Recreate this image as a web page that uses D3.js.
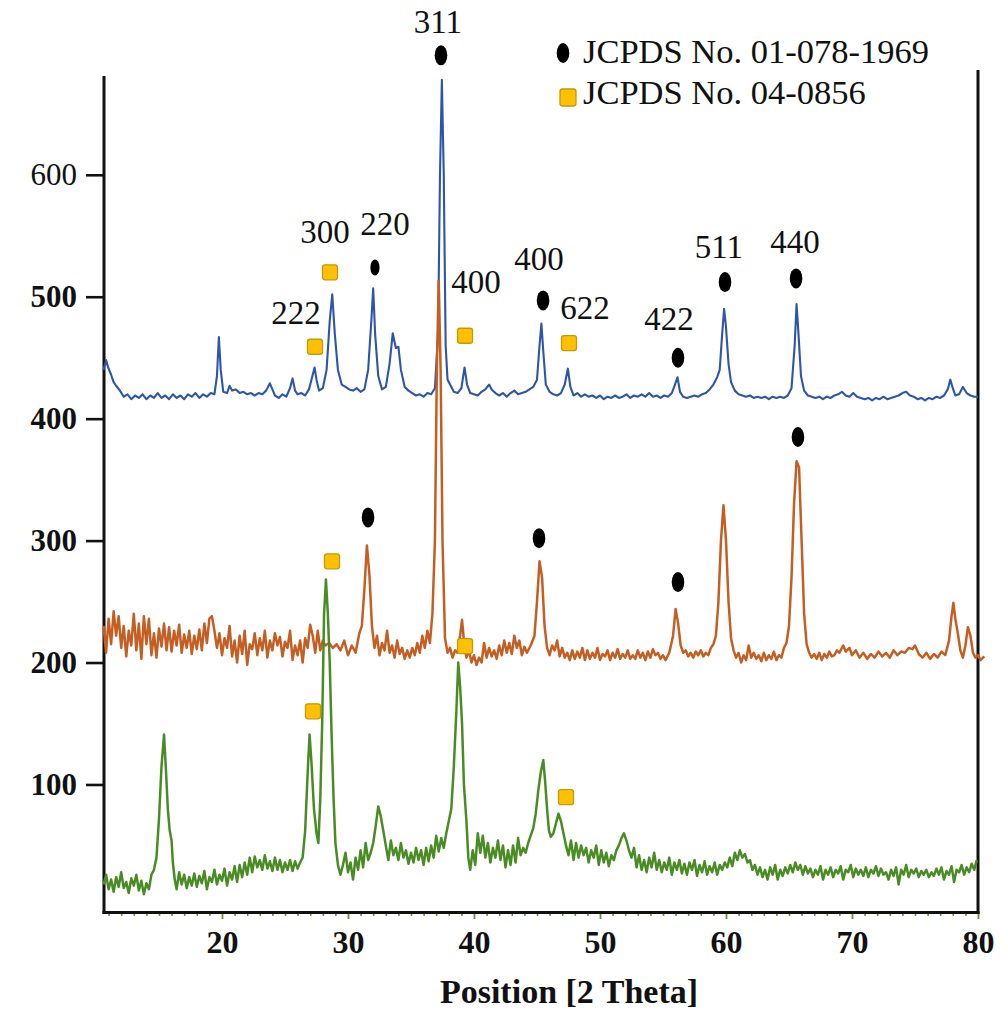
<!DOCTYPE html>
<html>
<head>
<meta charset="utf-8">
<script src="https://cdn.jsdelivr.net/npm/d3@7"></script>
<style>
  html, body { margin: 0; padding: 0; background: #fff; }
  svg { display: block; }
  text { font-family: "Liberation Serif", "Times New Roman", serif; fill: #111; }
</style>
</head>
<body>
<svg id="chart" width="1000" height="1030"></svg>
<script>
// ---------------- DATA (2θ, intensity) ----------------
const blueSeries = [
[10.6,440],[10.8,448],[11.0,441],[11.2,436],[11.4,430],[11.6,427],[11.9,423],[12.2,418],[12.5,420],[12.8,416],
[13.1,419],[13.4,417],[13.7,420],[14.0,416],[14.3,419],[14.6,417],[14.9,421],[15.2,417],[15.5,419],[15.8,416],
[16.1,420],[16.4,417],[16.7,419],[17.0,416],[17.3,420],[17.6,418],[17.9,421],[18.2,417],[18.5,420],[18.8,418],
[19.1,421],[19.4,420],[19.6,435],[19.75,467],[19.9,440],[20.1,422],[20.4,421],[20.6,427],[20.8,423],[21.1,424],
[21.4,421],[21.7,422],[22.0,420],[22.3,421],[22.6,419],[22.9,421],[23.2,420],[23.5,423],[23.8,429],[24.0,424],
[24.2,419],[24.5,417],[24.8,420],[25.1,418],[25.4,425],[25.6,433],[25.8,423],[26.0,420],[26.3,421],[26.6,419],
[26.9,424],[27.2,436],[27.35,442],[27.5,432],[27.7,423],[28.0,425],[28.3,440],[28.55,480],[28.75,502],[28.95,470],
[29.2,440],[29.5,428],[29.8,426],[30.1,424],[30.4,423],[30.7,425],[31.0,422],[31.3,424],[31.6,440],[31.85,480],
[32.0,507],[32.15,470],[32.4,435],[32.7,424],[33.0,426],[33.3,445],[33.55,470],[33.8,458],[34.0,459],[34.2,440],
[34.5,426],[34.8,423],[35.1,421],[35.4,419],[35.7,420],[36.0,418],[36.3,421],[36.6,420],[36.9,425],[37.15,470],
[37.3,600],[37.45,678],[37.6,600],[37.75,460],[37.9,432],[38.1,428],[38.4,422],[38.7,421],[39.0,425],[39.25,442],
[39.45,428],[39.7,421],[40.0,420],[40.3,419],[40.6,422],[40.9,424],[41.2,428],[41.4,424],[41.7,421],[42.0,419],
[42.3,421],[42.6,418],[42.9,421],[43.2,423],[43.5,420],[43.8,421],[44.1,422],[44.4,424],[44.7,426],[45.0,432],
[45.2,460],[45.35,478],[45.5,455],[45.7,428],[46.0,422],[46.3,420],[46.6,419],[46.9,421],[47.2,428],[47.45,441],
[47.65,426],[47.9,419],[48.2,421],[48.5,418],[48.8,420],[49.1,418],[49.4,419],[49.7,417],[50.0,419],[50.3,416],
[50.6,418],[50.9,417],[51.2,419],[51.5,417],[51.8,418],[52.1,420],[52.4,417],[52.7,419],[53.0,418],[53.3,420],
[53.6,418],[53.9,421],[54.2,418],[54.5,419],[54.8,417],[55.1,419],[55.4,418],[55.7,421],[55.95,428],[56.15,434],
[56.35,422],[56.6,418],[56.9,417],[57.2,418],[57.5,419],[57.8,418],[58.1,420],[58.4,421],[58.7,424],[59.0,428],
[59.3,434],[59.5,440],[59.7,470],[59.85,490],[60.0,475],[60.2,445],[60.4,430],[60.7,423],[61.0,420],[61.3,419],
[61.6,418],[61.9,419],[62.2,417],[62.5,418],[62.8,417],[63.1,418],[63.4,416],[63.7,418],[64.0,417],[64.3,418],
[64.6,417],[64.9,419],[65.2,425],[65.45,460],[65.6,494],[65.75,470],[65.95,435],[66.2,423],[66.5,419],[66.8,418],
[67.1,417],[67.4,418],[67.7,416],[68.0,418],[68.3,417],[68.6,419],[68.9,420],[69.2,422],[69.5,419],[69.8,418],
[70.1,421],[70.4,418],[70.7,417],[71.0,416],[71.3,417],[71.6,415],[71.9,417],[72.2,416],[72.5,418],[72.8,416],
[73.1,417],[73.4,418],[73.7,419],[74.0,421],[74.3,422],[74.6,419],[74.9,418],[75.2,416],[75.5,417],[75.8,415],
[76.1,417],[76.4,416],[76.7,418],[77.0,417],[77.3,419],[77.6,424],[77.8,432],[78.0,425],[78.2,419],[78.5,420],
[78.8,426],[79.1,421],[79.4,419],[79.7,418],[80.0,418]
];

const orangeSeries = [
[10.6,230],[10.8,208],[11.0,236],[11.2,215],[11.4,242],[11.6,222],[11.8,238],[12.0,212],[12.2,230],[12.4,205],
[12.6,226],[12.8,214],[13.0,240],[13.2,210],[13.4,232],[13.6,203],[13.8,238],[14.0,215],[14.2,236],[14.4,206],
[14.6,224],[14.8,204],[15.0,228],[15.2,213],[15.4,232],[15.6,210],[15.8,229],[16.0,209],[16.2,226],[16.4,214],
[16.6,231],[16.8,208],[17.0,223],[17.2,212],[17.4,226],[17.6,207],[17.8,222],[18.0,211],[18.2,227],[18.4,210],
[18.6,232],[18.8,216],[19.0,236],[19.2,238],[19.4,226],[19.6,212],[19.8,224],[20.0,206],[20.2,220],[20.4,212],
[20.6,230],[20.8,205],[21.0,218],[21.2,200],[21.4,222],[21.6,207],[21.8,226],[22.0,198],[22.2,215],[22.4,211],
[22.6,224],[22.8,206],[23.0,220],[23.2,210],[23.4,226],[23.6,204],[23.8,218],[24.0,210],[24.2,224],[24.4,214],
[24.6,221],[24.8,205],[25.0,217],[25.2,212],[25.4,226],[25.6,202],[25.8,214],[26.0,206],[26.2,218],[26.4,200],
[26.6,220],[26.8,212],[27.0,231],[27.2,222],[27.4,208],[27.6,226],[27.8,210],[28.0,218],[28.2,214],[28.5,216],
[28.8,212],[29.1,215],[29.4,210],[29.7,218],[30.0,206],[30.3,214],[30.6,208],[30.9,224],[31.1,230],[31.3,260],
[31.5,296],[31.7,272],[31.9,230],[32.1,212],[32.3,222],[32.5,206],[32.7,216],[32.9,210],[33.1,226],[33.3,208],
[33.5,214],[33.7,204],[33.9,218],[34.1,207],[34.3,212],[34.5,203],[34.7,210],[34.9,204],[35.1,212],[35.3,206],
[35.5,216],[35.7,208],[35.9,222],[36.1,212],[36.3,226],[36.5,216],[36.7,240],[36.9,300],[37.05,440],[37.2,513],
[37.35,440],[37.5,300],[37.7,220],[37.9,208],[38.1,212],[38.3,204],[38.5,210],[38.7,208],[38.9,222],[39.05,235],
[39.2,218],[39.4,204],[39.6,210],[39.8,200],[40.0,206],[40.2,198],[40.4,204],[40.6,200],[40.8,216],[41.0,204],
[41.2,212],[41.4,205],[41.6,210],[41.8,203],[42.0,214],[42.2,206],[42.4,218],[42.6,208],[42.8,216],[43.0,207],
[43.2,222],[43.4,212],[43.6,218],[43.8,206],[44.0,213],[44.2,208],[44.5,214],[44.8,222],[45.0,250],[45.2,283],
[45.4,270],[45.6,230],[45.8,212],[46.0,206],[46.2,214],[46.4,210],[46.6,218],[46.8,205],[47.0,212],[47.2,204],
[47.4,208],[47.6,202],[47.8,210],[48.0,203],[48.2,209],[48.4,204],[48.6,212],[48.8,202],[49.0,210],[49.2,203],
[49.4,208],[49.6,204],[49.8,212],[50.0,202],[50.2,207],[50.4,205],[50.6,210],[50.8,202],[51.0,208],[51.2,204],
[51.4,211],[51.6,203],[51.8,207],[52.0,204],[52.2,210],[52.4,203],[52.6,206],[52.8,203],[53.0,210],[53.2,204],
[53.4,208],[53.6,202],[53.8,209],[54.0,204],[54.2,211],[54.4,206],[54.6,208],[54.8,203],[55.0,206],[55.2,202],
[55.5,208],[55.8,222],[56.0,244],[56.2,232],[56.4,214],[56.6,208],[56.8,210],[57.0,205],[57.2,208],[57.4,204],
[57.6,209],[57.8,206],[58.0,210],[58.2,205],[58.4,208],[58.6,206],[58.8,212],[59.0,215],[59.2,222],[59.4,250],
[59.6,300],[59.8,329],[60.0,300],[60.2,250],[60.4,220],[60.6,210],[60.8,204],[61.0,208],[61.2,200],[61.4,206],
[61.6,202],[61.8,214],[62.0,204],[62.2,208],[62.4,203],[62.6,206],[62.8,201],[63.0,208],[63.2,202],[63.4,206],
[63.6,203],[63.8,209],[64.0,202],[64.2,206],[64.4,204],[64.6,212],[64.8,216],[65.0,230],[65.2,270],[65.4,330],
[65.6,365],[65.8,360],[66.0,300],[66.2,240],[66.4,215],[66.6,208],[66.8,204],[67.0,207],[67.2,203],[67.4,208],
[67.6,202],[67.8,207],[68.0,204],[68.2,209],[68.4,205],[68.6,206],[68.8,210],[69.0,208],[69.3,214],[69.5,209],
[69.8,212],[70.0,206],[70.3,210],[70.6,204],[70.9,208],[71.2,203],[71.5,207],[71.8,204],[72.1,209],[72.4,205],
[72.7,208],[73.0,204],[73.3,210],[73.6,206],[73.9,209],[74.2,208],[74.5,212],[74.8,211],[75.0,214],[75.3,207],
[75.6,204],[75.9,208],[76.2,203],[76.5,207],[76.8,204],[77.1,209],[77.4,206],[77.7,218],[77.9,238],[78.05,249],
[78.2,236],[78.4,224],[78.6,210],[78.8,204],[79.0,214],[79.2,229],[79.4,222],[79.6,208],[79.8,204],[80.0,206],
[80.2,202],[80.5,205]
];

const greenSeries = [
[10.6,18],[10.8,26],[11.0,14],[11.2,22],[11.4,12],[11.6,24],[11.8,16],[12.0,28],[12.2,15],[12.4,20],
[12.6,11],[12.8,23],[13.0,17],[13.2,26],[13.4,13],[13.6,21],[13.8,10],[14.0,19],[14.2,14],[14.4,26],
[14.6,30],[14.8,40],[15.0,72],[15.2,115],[15.4,141],[15.55,112],[15.7,80],[15.85,62],[16.0,54],[16.1,36],
[16.25,22],[16.4,14],[16.6,28],[16.8,18],[17.0,26],[17.2,15],[17.4,24],[17.6,17],[17.8,27],[18.0,16],
[18.2,25],[18.4,19],[18.6,29],[18.8,14],[19.0,24],[19.2,20],[19.4,30],[19.6,18],[19.8,26],[20.0,21],
[20.2,31],[20.4,17],[20.6,28],[20.8,22],[21.0,33],[21.2,20],[21.4,34],[21.6,24],[21.8,36],[22.0,26],
[22.2,40],[22.4,28],[22.6,41],[22.8,32],[23.0,38],[23.2,30],[23.4,42],[23.6,31],[23.8,37],[24.0,29],
[24.2,40],[24.4,30],[24.6,38],[24.8,28],[25.0,36],[25.2,30],[25.4,38],[25.6,29],[25.8,37],[26.0,31],
[26.2,36],[26.4,40],[26.6,62],[26.8,110],[26.95,141],[27.1,118],[27.3,80],[27.5,60],[27.65,52],[27.8,88],
[27.95,150],[28.1,240],[28.25,268],[28.4,240],[28.55,200],[28.7,140],[28.85,90],[29.0,52],[29.2,34],[29.4,26],
[29.6,34],[29.8,44],[30.0,28],[30.2,36],[30.4,22],[30.6,40],[30.8,30],[31.0,46],[31.2,32],[31.4,52],
[31.6,38],[31.8,44],[32.0,52],[32.2,66],[32.4,82],[32.6,74],[32.8,62],[33.0,50],[33.2,38],[33.4,54],
[33.6,42],[33.8,48],[34.0,38],[34.2,52],[34.4,40],[34.6,46],[34.8,35],[35.0,44],[35.2,36],[35.4,48],
[35.6,38],[35.8,46],[36.0,34],[36.2,48],[36.4,37],[36.6,50],[36.8,40],[37.0,58],[37.2,45],[37.4,56],
[37.6,48],[37.8,60],[38.0,70],[38.2,80],[38.4,115],[38.6,160],[38.75,200],[38.9,180],[39.05,150],[39.2,100],
[39.4,70],[39.55,40],[39.7,30],[39.9,46],[40.1,34],[40.3,60],[40.5,44],[40.7,58],[40.9,40],[41.1,52],
[41.3,36],[41.5,48],[41.7,40],[41.9,54],[42.1,38],[42.3,50],[42.5,32],[42.7,46],[42.9,34],[43.1,50],
[43.3,36],[43.5,56],[43.7,42],[43.9,48],[44.1,44],[44.3,52],[44.5,58],[44.7,64],[44.9,76],[45.1,95],
[45.3,110],[45.5,120],[45.65,102],[45.8,80],[45.95,62],[46.1,57],[46.3,60],[46.5,68],[46.7,76],[46.9,70],
[47.1,60],[47.3,50],[47.5,42],[47.7,54],[47.9,38],[48.1,52],[48.3,40],[48.5,50],[48.7,42],[48.9,48],
[49.1,36],[49.3,46],[49.5,40],[49.7,50],[49.9,34],[50.1,46],[50.3,36],[50.5,44],[50.7,33],[50.9,42],
[51.1,38],[51.3,46],[51.5,50],[51.7,56],[51.9,60],[52.1,54],[52.3,46],[52.5,40],[52.7,48],[52.9,32],
[53.1,42],[53.3,30],[53.5,38],[53.7,28],[53.9,40],[54.1,32],[54.3,44],[54.5,30],[54.7,38],[54.9,28],
[55.1,36],[55.3,30],[55.5,40],[55.7,26],[55.9,36],[56.1,30],[56.3,38],[56.5,27],[56.7,35],[56.9,26],
[57.1,36],[57.3,30],[57.5,38],[57.7,25],[57.9,34],[58.1,28],[58.3,37],[58.5,26],[58.7,33],[58.9,28],
[59.1,36],[59.3,26],[59.5,34],[59.7,30],[59.9,36],[60.1,32],[60.3,40],[60.5,33],[60.7,44],[60.9,38],
[61.1,46],[61.3,40],[61.5,43],[61.7,36],[61.9,38],[62.1,30],[62.3,34],[62.5,26],[62.7,32],[62.9,24],
[63.1,30],[63.3,22],[63.5,32],[63.7,26],[63.9,34],[64.1,22],[64.3,30],[64.5,25],[64.7,32],[64.9,27],
[65.1,34],[65.3,28],[65.5,36],[65.7,30],[65.9,34],[66.1,26],[66.3,33],[66.5,27],[66.7,31],[66.9,24],
[67.1,30],[67.3,26],[67.5,33],[67.7,22],[67.9,30],[68.1,26],[68.3,32],[68.5,24],[68.7,30],[68.9,27],
[69.1,33],[69.3,22],[69.5,30],[69.7,28],[69.9,34],[70.1,24],[70.3,31],[70.5,26],[70.7,30],[70.9,25],
[71.1,32],[71.3,24],[71.5,30],[71.7,27],[71.9,33],[72.1,25],[72.3,31],[72.5,26],[72.7,28],[72.9,22],
[73.1,30],[73.3,25],[73.5,32],[73.7,18],[73.9,30],[74.1,26],[74.3,34],[74.5,24],[74.7,30],[74.9,27],
[75.1,31],[75.3,24],[75.5,29],[75.7,26],[75.9,30],[76.1,24],[76.3,28],[76.5,25],[76.7,31],[76.9,26],
[77.1,32],[77.3,22],[77.5,29],[77.7,26],[77.9,33],[78.1,20],[78.3,30],[78.5,28],[78.7,34],[78.9,26],
[79.1,32],[79.3,28],[79.5,35],[79.7,30],[79.9,38]
];

// Reference-pattern markers [2θ, intensity]
const circleMarkers = [
  [37.38,698],[45.48,497],[56.19,450],[59.92,512],[65.56,515],
  [31.59,319],[45.16,302],[56.19,266],[65.71,385]
];
const smallCircleMarkers = [[32.14,524]];
const squareMarkers = [
  [28.57,520],[27.38,459],[39.29,468],[47.54,462],
  [28.73,283],[39.29,213.5],
  [27.22,160],[47.3,89.6]
];

// Miller index labels [label, 2θ, intensity]
const peakLabels = [
  ["311",37.14,716],["300",28.17,544],["220",32.94,551],["222",25.87,478],
  ["400",40.16,503],["400",45.16,522],["622",48.81,482],["422",55.48,473],
  ["511",59.44,532],["440",65.48,536]
];

const legendLabels = ["JCPDS No. 01-078-1969", "JCPDS No. 04-0856"];
const xTicks = [20, 30, 40, 50, 60, 70, 80];
const yTicks = [100, 200, 300, 400, 500, 600];
const xTitle = "Position [2 Theta]";

// ---------------- DRAWING ----------------
const svg = d3.select("#chart");
const x = d3.scaleLinear().domain([20, 80]).range([222, 978]);
const y = d3.scaleLinear().domain([0, 600]).range([906.4, 174.8]);

const axisLeftX = x(10.635);
const axisBottomY = 912.5;
const seriesStyle = [
  { data: blueSeries,   color: "#2D55A8", width: 2.1 },
  { data: orangeSeries, color: "#C55E22", width: 2.5 },
  { data: greenSeries,  color: "#4A8C24", width: 2.5 }
];

// x-axis minor ticks
const minorTicks = d3.range(11, 81).filter(v => v % 10 !== 0);
const gMinor = svg.append("g").attr("transform", `translate(0,${axisBottomY})`)
  .call(d3.axisBottom(x).tickValues(minorTicks).tickSize(3.5).tickFormat(""));
gMinor.select(".domain").remove();
gMinor.selectAll(".tick line").attr("stroke", "#5a9a2c").attr("stroke-width", 1.6);

const gX = svg.append("g").attr("transform", `translate(0,${axisBottomY})`)
  .call(d3.axisBottom(x).tickValues(xTicks).tickSize(6.5).tickPadding(11).tickFormat(d3.format("d")));
gX.select(".domain").remove();
gX.selectAll(".tick line").attr("stroke", "#5a9a2c").attr("stroke-width", 1.8);
gX.selectAll(".tick text")
  .attr("font-family", '"Liberation Serif", "Times New Roman", serif')
  .attr("font-size", 32).attr("font-weight", "bold").attr("fill", "#111");

const gY = svg.append("g").attr("transform", `translate(${axisLeftX},0)`)
  .call(d3.axisLeft(y).tickValues(yTicks).tickSize(18).tickPadding(9).tickFormat(d3.format("d")));
gY.select(".domain").remove();
gY.selectAll(".tick line").attr("stroke", "#111").attr("stroke-width", 2.6);
gY.selectAll(".tick text")
  .attr("font-family", '"Liberation Serif", "Times New Roman", serif')
  .attr("font-size", 31)
  .attr("font-weight", d => d === 600 ? "normal" : "bold")
  .attr("fill", "#111");

// frame lines
svg.append("line").attr("x1", axisLeftX).attr("x2", axisLeftX).attr("y1", 76).attr("y2", axisBottomY + 1.5)
  .attr("stroke", "#111").attr("stroke-width", 3);
svg.append("line").attr("x1", axisLeftX - 1.5).attr("x2", x(80) + 1.5).attr("y1", axisBottomY).attr("y2", axisBottomY)
  .attr("stroke", "#111").attr("stroke-width", 3);
svg.append("line").attr("x1", x(80)).attr("x2", x(80)).attr("y1", 70).attr("y2", axisBottomY + 1.5)
  .attr("stroke", "#111").attr("stroke-width", 3);

// series
const line = d3.line().x(d => x(d[0])).y(d => y(d[1]));
seriesStyle.forEach(s => {
  svg.append("path").datum(s.data).attr("d", line)
    .attr("fill", "none").attr("stroke", s.color).attr("stroke-width", s.width)
    .attr("stroke-linejoin", "round");
});

// markers
svg.selectAll("ellipse.big").data(circleMarkers).join("ellipse").attr("class", "big")
  .attr("cx", d => x(d[0])).attr("cy", d => y(d[1])).attr("rx", 6.3).attr("ry", 10).attr("fill", "#000");
svg.selectAll("ellipse.small").data(smallCircleMarkers).join("ellipse").attr("class", "small")
  .attr("cx", d => x(d[0])).attr("cy", d => y(d[1])).attr("rx", 4.6).attr("ry", 8).attr("fill", "#000");
svg.selectAll("rect.sq").data(squareMarkers).join("rect").attr("class", "sq")
  .attr("x", d => x(d[0]) - 7.5).attr("y", d => y(d[1]) - 7.5).attr("width", 15).attr("height", 15)
  .attr("rx", 2.5).attr("fill", "#FFC000").attr("stroke", "#C29A10").attr("stroke-width", 1.3);

// peak labels
svg.selectAll("text.hkl").data(peakLabels).join("text").attr("class", "hkl")
  .attr("x", d => x(d[1])).attr("y", d => y(d[2]))
  .attr("text-anchor", "middle").attr("font-size", 33).text(d => d[0]);

// legend
const lg = svg.append("g");
lg.append("ellipse").attr("cx", 563).attr("cy", 53).attr("rx", 6.3).attr("ry", 10).attr("fill", "#000");
lg.append("rect").attr("x", 560).attr("y", 89).attr("width", 16).attr("height", 17).attr("rx", 2.5)
  .attr("fill", "#FFC000").attr("stroke", "#C29A10").attr("stroke-width", 1.3);
lg.selectAll("text").data(legendLabels).join("text")
  .attr("x", 583).attr("y", (d, i) => 63 + i * 41).attr("font-size", 34.5).text(d => d);

// x title
svg.append("text").attr("x", 569).attr("y", 1003).attr("text-anchor", "middle")
  .attr("font-size", 34).attr("font-weight", "bold").text(xTitle);
</script>
</body>
</html>
